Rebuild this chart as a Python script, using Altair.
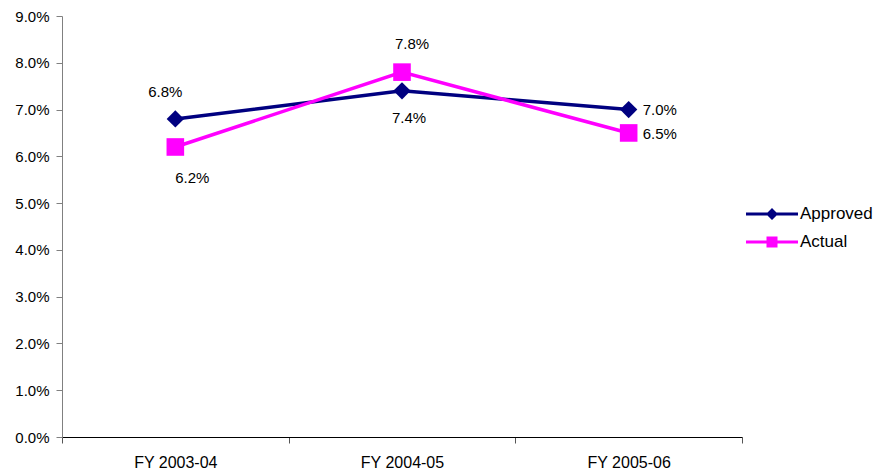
import altair as alt
import pandas as pd

# Fiscal years and the growth rates for each series
years = ["FY 2003-04", "FY 2004-05", "FY 2005-06"]
approved = [0.068, 0.074, 0.070]
actual = [0.062, 0.078, 0.065]
series_names = ["Approved", "Actual"]
series_colors = ["#000080", "#FF00FF"]
y_ticks = [0.0, 0.01, 0.02, 0.03, 0.04, 0.05, 0.06, 0.07, 0.08, 0.09]

rows = []
for name, vals in zip(series_names, [approved, actual]):
    for yr, v in zip(years, vals):
        rows.append({"year": yr, "series": name, "value": v})
df = pd.DataFrame(rows)

FONT = "Liberation Sans"

# legend glyphs: a line segment with the series marker on it
legend_paths = [
    "M-2.6,-0.15L2.6,-0.15L2.6,0.15L-2.6,0.15Z M0,-0.6L0.6,0L0,0.6L-0.6,0Z",
    "M-2.6,-0.15L2.6,-0.15L2.6,0.15L-2.6,0.15Z M-0.55,-0.55L0.55,-0.55L0.55,0.55L-0.55,0.55Z",
]

x_enc = alt.X(
    "year:N",
    sort=years,
    bandPosition=0.5,
    scale=alt.Scale(type="band", paddingInner=0, paddingOuter=0),
    axis=alt.Axis(
        title=None,
        labelAngle=0,
        tickBand="extent",
        domainColor="#000000",
        tickColor="#555555",
        tickSize=6,
        labelFont=FONT,
        labelFontSize=16,
        labelColor="#000000",
        labelPadding=11,
        grid=False,
    ),
)
y_enc = alt.Y(
    "value:Q",
    scale=alt.Scale(domain=[0, 0.09], nice=False, zero=True),
    axis=alt.Axis(
        title=None,
        values=y_ticks,
        format=".1%",
        domainColor="#808080",
        tickColor="#808080",
        tickSize=6,
        labelFont=FONT,
        labelFontSize=15,
        labelColor="#000000",
        labelPadding=7,
        grid=False,
    ),
)
color_scale = alt.Scale(domain=series_names, range=series_colors)

base = alt.Chart(df)

# legend-only layer (no rows drawn)
legend_layer = base.transform_filter("false").mark_point(filled=True, opacity=1).encode(
    x=x_enc,
    y=y_enc,
    color=alt.Color(
        "series:N",
        scale=color_scale,
        legend=alt.Legend(
            title=None,
            orient="none",
            legendX=700,
            legendY=188,
            padding=0,
            symbolSize=400,
            symbolStrokeWidth=0,
            labelOffset=18,
            rowPadding=10,
            labelFont=FONT,
            labelFontSize=17,
            labelColor="#000000",
        ),
    ),
    shape=alt.Shape(
        "series:N",
        scale=alt.Scale(domain=series_names, range=legend_paths),
    ),
)

lines = base.mark_line(strokeWidth=3.5).encode(
    x=x_enc, y=y_enc, color=alt.Color("series:N", scale=color_scale), detail="series:N"
)

diamonds = base.transform_filter(alt.datum.series == "Approved").mark_point(
    shape="diamond", filled=True, size=300, opacity=1
).encode(x=x_enc, y=y_enc, color=alt.Color("series:N", scale=color_scale))

squares = base.transform_filter(alt.datum.series == "Actual").mark_point(
    shape="square", filled=True, size=310, opacity=1
).encode(x=x_enc, y=y_enc, color=alt.Color("series:N", scale=color_scale))


def value_label(series, year, dx, dy, align="center"):
    return base.transform_filter(
        (alt.datum.series == series) & (alt.datum.year == year)
    ).mark_text(
        font=FONT, fontSize=15, color="#000000", dx=dx, dy=dy, align=align, baseline="middle"
    ).encode(x=x_enc, y=y_enc, text=alt.Text("value:Q", format=".1%"))


labels = [
    value_label("Approved", years[0], -10, -27),
    value_label("Approved", years[1], 7, 27),
    value_label("Approved", years[2], 14, 0, "left"),
    value_label("Actual", years[0], 17, 31),
    value_label("Actual", years[1], 10, -28),
    value_label("Actual", years[2], 14, 1, "left"),
]

chart = alt.layer(legend_layer, lines, diamonds, squares, *labels).properties(
    width=680,
    height=421,
    background="#ffffff",
    autosize=alt.AutoSizeParams(type="none"),
    padding={"left": 62, "top": 16, "right": 145, "bottom": 36},
).configure_view(stroke=None)

chart.save("out.html", embed_options={"renderer": "svg", "actions": False})
